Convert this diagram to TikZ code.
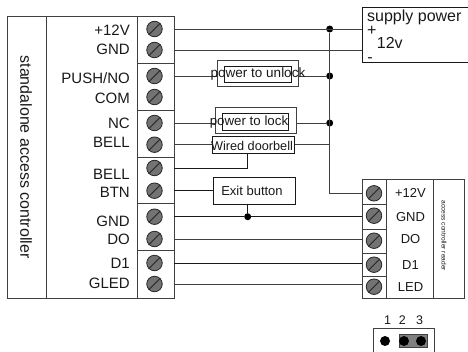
\documentclass[tikz,border=0pt]{standalone}
\usepackage{fontspec}
\setmainfont{Liberation Sans}
\newcommand{\fsz}[1]{\fontsize{#1}{#1}\selectfont}
\definecolor{ln}{HTML}{404040}
\tikzset{
  wire/.style={draw=ln,line width=0.9pt},
  bwire/.style={draw=black!90,line width=0.9pt},
  frame/.style={draw=ln,line width=1pt},
  boxn/.style={draw=black!90,line width=0.9pt,inner sep=0pt,anchor=north west},
  gbox/.style={draw=ln,line width=1.1pt,inner sep=0pt,anchor=north west},
  screw/.style={circle,draw=black!85,fill=gray!90!black,line width=0.8pt,minimum size=15.5pt,inner sep=0pt},
  dotn/.style={circle,fill=black,inner sep=0pt,minimum size=7pt},
  lab/.style={inner sep=0pt,font=\fsz{15},anchor=mid east,text=black!90,yshift=-3.2pt},
  tx/.style={inner sep=0pt,font=\fsz{13},anchor=mid,text=black!90,yshift=-2.5pt}
}
\begin{document}
\begin{tikzpicture}[x=1pt,y=-1pt]
\useasboundingbox (0,0) rectangle (468,351);
% controller
\node[gbox,minimum width=166.5pt,minimum height=281.7pt] (ctrl) at (7,16) {};
\draw[frame] (46,16) -- (46,297.7);
\draw[frame] (137,16) -- (137,297.7);
\foreach \y in {63,110,157,203.7,250.7} \draw[frame] (137,\y) -- (173.5,\y);
\node[inner sep=0pt,rotate=-90,font=\fsz{16},text=black!90] (ctrltitle) at (26,157) {standalone access controller};
% left labels
\foreach \n/\t/\y in {a/+12V/30,b/GND/49,c/PUSH\slash NO/78,d/COM/97.5,e/NC/123,f/BELL/142,g/BELL/173.5,h/BTN/192,i/GND/220.5,j/DO/239,k/D1/263,l/GLED/283}
  \node[lab] (lab\n) at (130,\y) {\t};
% left screws and wire ends
\foreach \n/\y/\s in {a/29/29,b/50/50,c/76/76,d/97/97,e/123/123,f/144.7/144.7,g/168/168,h/190.7/190.7,i/216.7/216.7,j/239/239,k/263/263,l/284/284}{
  \node[screw] (s\n) at (154.5,\y) {};
  \draw[black!85,line width=0.8pt] (s\n.south west) -- (s\n.north east);
  \coordinate (w\n) at (173.5,\y);
}
% boxes in the middle
\node[gbox,minimum width=81pt,minimum height=26pt] (unlockout) at (217,60) {};
\node[boxn,minimum width=66.7pt,minimum height=16.3pt] (unlockin) at (224,65.7) {};
\node[gbox,minimum width=81pt,minimum height=26.3pt] (lockout) at (215,106.7) {};
\node[boxn,minimum width=66.3pt,minimum height=17.3pt] (lockin) at (221.7,112.7) {};
\node[boxn,minimum width=81.7pt,minimum height=17.3pt] (bellbox) at (212,136) {};
\node[boxn,minimum width=81.7pt,minimum height=26.4pt] (exitbox) at (213,177.3) {};
% supply
\node[boxn,minimum width=112pt,minimum height=54.7pt] (supply) at (361.7,7.3) {};
\node[tx,font=\fsz{16},anchor=mid west] (t1) at (367,16.5) {supply power};
\node[tx,font=\fsz{16}] (t2) at (371.7,30) {+};
\node[tx,font=\fsz{16},anchor=mid west] (t3) at (376.7,43) {12v};
\node[tx,font=\fsz{16}] (t4) at (370,57) {-};
% reader
\node[gbox,minimum width=102.6pt,minimum height=119pt] (reader) at (361.7,179) {};
\draw[frame] (386.3,179) -- (386.3,298);
\draw[frame] (433.3,179) -- (433.3,298);
\foreach \y in {204.3,229,253.3,276.7} \draw[frame] (361.7,\y) -- (386.3,\y);
\foreach \n/\y in {a/193.3,b/215.7,c/240.7,d/264.7,e/286.7}{
  \node[screw] (r\n) at (374,\y) {};
  \draw[black!85,line width=0.8pt] (r\n.south west) -- (r\n.north east);
}
\foreach \n/\t/\y in {a/+12V/192,b/GND/216,c/DO/238,d/D1/264.5,e/LED/286}
  \node[tx] (rl\n) at (410.5,\y) {\t};
\node[inner sep=0pt,rotate=-90,font=\fsz{6.6},text=black!90] (readert) at (444,235.7) {access controller reader};
% junctions
\coordinate (busB) at (329.7,193.3);
\node[dotn] (d1) at (329.7,29) {};
\node[dotn] (d2) at (329.7,76) {};
\node[dotn] (d3) at (329.7,123) {};
\node[dotn] (d4) at (247.7,216.7) {};
\coordinate (bellstub) at (329.7,144.7);
% wires
\draw[wire] (wa) -- (361.7,29);
\draw[wire] (wb) -- (361.7,50);
\draw[wire] (wc) -- (unlockout.west |- wc);
\draw[wire] (unlockout.east |- d2) -- (d2);
\draw[wire] (we) -- (lockout.west |- we);
\draw[wire] (lockout.east |- d3) -- (d3);
\draw[wire] (wf) -- (bellbox.west |- wf);
\draw[wire] (bellbox.east |- bellstub) -- (bellstub);
\draw[bwire] (wg) -- (247.7,168) -- (247.7,153.3);
\draw[wire] (d1) -- (busB) -- (361.7,193.3);
\draw[bwire] (wh) -- (exitbox.west |- wh);
\draw[bwire] (wi) -- (d4) -- (361.7,216.7);
\draw[bwire] (exitbox.south -| d4) -- (d4);
\draw[wire] (wj) -- (361.7,239);
\draw[bwire] (wk) -- (361.7,263);
\draw[wire] (wl) -- (361.7,284);
% texts over boxes
\node[tx,font=\fsz{13.5}] (unlockt) at (258,72.7) {power to unlock};
\node[tx,font=\fsz{13.3}] (lockt) at (249,120) {power to lock};
\node[tx,font=\fsz{12.7}] (bellt) at (252,145) {Wired doorbell};
\node[tx] (exitt) at (252,190) {Exit button};
% jumper
\draw[frame] (373,352) -- (373,328) -- (434,328) -- (434,352);
\node[inner sep=0pt,draw=ln,fill=gray,line width=0.9pt,minimum width=28.3pt,minimum height=12.4pt,anchor=north west] (jmp) at (399,334.3) {};
\node[dotn,minimum size=10pt] (p1) at (385,341) {};
\node[dotn,minimum size=10pt] (p2) at (404,341) {};
\node[dotn,minimum size=10pt] (p3) at (421,341) {};
\node[tx,font=\fsz{12.5}] (n1) at (387.7,319) {1};
\node[tx,font=\fsz{12.5}] (n2) at (402.3,319) {2};
\node[tx,font=\fsz{12.5}] (n3) at (419.7,319) {3};
\end{tikzpicture}
\end{document}
